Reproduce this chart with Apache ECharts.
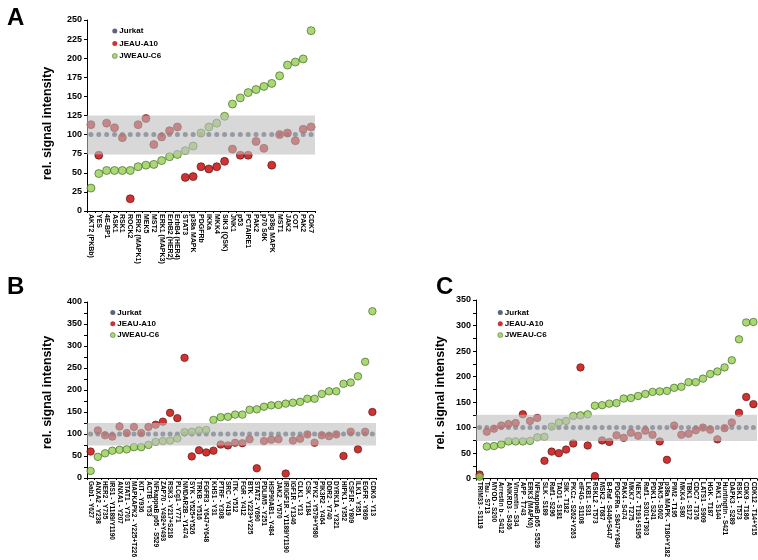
<!DOCTYPE html>
<html><head><meta charset="utf-8">
<script src="https://cdn.jsdelivr.net/npm/echarts@6/dist/echarts.min.js"></script>
<style>html,body{margin:0;padding:0;background:#fff}#c{width:758px;height:560px}</style>
</head><body><div id="c"></div>
<script>
const seriesNames = ['Jurkat', 'JEAU-A10', 'JWEAU-C6'];
const bandRange = [74, 125];

const catsA = ['AKT2 (PKBb)','YES','4E-BP1','ASK1','RSK1','ROCK2','ERK2 (MAPK1)','MEK5','MST2','ERK1 (MAPK3)','ErbB2 (HER2)','ErbB4 (HER4)','STAT3','p38a MAPK','PDGFRb','IKKa','MKK4','SIK3 (QSK)','JNK1','p53','PCTAIRE1','PAK2','p70 S6K','p38g MAPK','MST1','JAK2','COT','PAK2','CDK7'];
const jurkatA = [100,100,100,100,100,100,100,100,100,100,100,100,100,100,100,100,100,100,100,100,100,100,100,100,100,100,100,100,100];
const redA = [113,73,115,109,96,16,113,121,87,97,105,110,44,45,58,55,58,65,81,73,73,91,82,60,100,102,92,107,110];
const greenA = [30,49,53,53,53,53,58,60,61,66,71,74,79,85,102,110,115,124,140,148,155,159,163,167,177,191,195,199,236];
const ticksA = {min: 0, max: 250, interval: 25};

const catsB = ['Gab1 - Y627','ANXA2 - Y238','HER2 - Y735','IRS1 - Y1189/Y1190','ANXA1 - Y207','STAT1 - Y701','MAPKAPK2 - Y225+T226','KIT - Y936','ACTB - Y53','NFkappaB p65 - S529','ZAP70 - Y492+Y493','RSK3 - Y217+S218','PLCg1 - Y771','NMDAR2B - Y1474','SYK - Y525+Y526','TRKB - Y516','FGFR3 - Y647+Y648','KHS1 - Y31','PTRF - Y308','SRC - Y419','ITK - Y512','FGR - Y412','BTK - Y223+Y225','STAT2 - Y690','PDLIM5 - Y251','HSP90AB1 - Y484','JAK2 - Y570','IR/IGF1R - Y1189/Y1190','IGF1R - Y1346','CLK1 - Y13','CSK - Y184','PYK2 - Y579+Y580','PIK3R2 - Y464','DDR2 - Y740','DYRK1A - Y321','HIPK1 - Y352','CSF1R - Y809','ILK1 - Y351','EGFR - Y869','CDK6 - Y13'];
const jurkatB = [100,100,100,100,100,100,100,100,100,100,100,100,100,100,100,100,100,100,100,100,100,100,100,100,100,100,100,100,100,100,100,100,100,100,100,100,100,100,100,100];
const redB = [60,108,97,94,117,102,116,102,116,121,128,148,136,273,49,63,58,62,76,74,80,79,88,22,84,87,88,10,85,89,99,80,97,95,99,50,105,65,105,150];
const greenB = [16,48,56,62,64,65,70,70,75,82,84,85,90,104,105,108,109,132,138,139,144,144,155,156,162,165,166,169,171,173,180,180,191,197,197,214,217,231,264,379];
const ticksB = {min: 0, max: 400, interval: 50};

const catsC = ['TRIM33 - S1119','Tau - S713','MYOD - S200','Arrestin b - S412','ANKRD3 - S436','Vimentin - S34','APP - T743','ERK3 (MAPK6)','NFkappaB p65 - S529','SLK - S189','Raf1 - S296','TAO1 - S181','SIK - T182','PKCz - S262+Y263','eIF4G - S1108','LKB1 - S31','RSKL2 - T573','MSK2 - T687','B-Raf - S446+S447','PDGFRa - S847+Y849','PAK4 - S474','MKK7 - T275','NEK7 - T191+S195','Raf1 - S301+T303','PDK1 - S241','PAK5 - S602','p38a MAPK - T180+Y182','PIM2 - T195','MKK4 - S80','TBK1 - S172','CDC7 - T376','LATS1 - S909','HGK - T187','PAK1 - S144','Huntingtin - S421','DAPK3 - S289','RSK1 - T573','CDK9 - T186','CDK12 - T14+Y15'];
const jurkatC = [100,100,100,100,100,100,100,100,100,100,100,100,100,100,100,100,100,100,100,100,100,100,100,100,100,100,100,100,100,100,100,100,100,100,100,100,100,100,100];
const redC = [8,92,98,104,107,109,126,113,119,35,53,50,57,69,218,65,5,75,72,85,80,90,84,94,86,73,37,104,86,88,95,100,96,77,99,110,129,160,146];
const greenC = [4,63,64,67,73,73,73,74,81,82,102,110,113,123,124,126,143,144,147,148,157,158,162,166,170,171,172,178,180,189,189,196,205,210,218,232,273,306,307];
const ticksC = {min: 0, max: 350, interval: 50};

const FONT = 'Liberation Sans, Arial, sans-serif';
const colors = {jurkat: '#313d5c', red: '#c00000', green: '#92d050'};

const panels = [
  {cats: catsA, j: jurkatA, r: redA, g: greenA, ticks: ticksA, grid: {left: 87, top: 20, width: 228, height: 191}, minor: false, labelSize: 7, nameGap: 33, namePad: 16, size: 8, legend: {left: 112, top: 27, gap: 4.5}},
  {cats: catsB, j: jurkatB, r: redB, g: greenB, ticks: ticksB, grid: {left: 87, top: 302, width: 289, height: 179}, minor: true, labelSize: 6.5, nameGap: 33, namePad: 5, size: 7.5, legend: {left: 110, top: 308.5, gap: 3.3}},
  {cats: catsC, j: jurkatC, r: redC, g: greenC, ticks: ticksC, grid: {left: 476, top: 300, width: 281, height: 181}, minor: true, labelSize: 6.5, nameGap: 29, namePad: 7, size: 7.5, legend: {left: 497.5, top: 308.5, gap: 3.3}}
];

const option = {
  animation: false,
  backgroundColor: '#fff',
  title: [
    {text: 'A', left: 2, top: 1},
    {text: 'B', left: 2, top: 270},
    {text: 'C', left: 431, top: 270}
  ].map(t => Object.assign(t, {textStyle: {fontFamily: FONT, fontSize: 24, fontWeight: 'bold', color: '#000'}})),
  grid: [], xAxis: [], yAxis: [], series: [], legend: []
};

panels.forEach((p, i) => {
  option.grid.push(Object.assign({containLabel: false}, p.grid));
  option.xAxis.push({
    type: 'category', gridIndex: i, data: p.cats, boundaryGap: true,
    axisLine: {lineStyle: {color: '#000', width: 1}},
    axisTick: {show: true, length: 2, lineStyle: {color: '#000'}},
    axisLabel: {interval: 0, rotate: -90, margin: 3, fontFamily: FONT, fontSize: p.labelSize, fontWeight: 'bold', color: '#000'},
    splitLine: {show: false}
  });
  option.yAxis.push({
    type: 'value', gridIndex: i, min: p.ticks.min, max: p.ticks.max, interval: p.ticks.interval,
    name: 'rel. signal intensity', nameLocation: 'middle', nameGap: p.nameGap, nameRotate: 90,
    nameTextStyle: {fontFamily: FONT, fontSize: 12.5, fontWeight: 'bold', color: '#000', padding: [0, p.namePad, 0, 0]},
    axisLine: {show: true, lineStyle: {color: '#000', width: 1}},
    axisTick: {show: true, length: 3, lineStyle: {color: '#000'}},
    minorTick: {show: p.minor, splitNumber: 2, length: 3, lineStyle: {color: '#000'}},
    axisLabel: {margin: 5, fontFamily: FONT, fontSize: 9, fontWeight: 'bold', color: '#000'},
    splitLine: {show: false}
  });
  const common = {type: 'scatter', xAxisIndex: i, yAxisIndex: i, symbol: 'circle'};
  option.series.push(Object.assign({}, common, {name: seriesNames[0], data: p.j, symbolSize: 5, z: 2,
    itemStyle: {color: colors.jurkat}}));
  option.series.push(Object.assign({}, common, {name: seriesNames[1], data: p.r, symbolSize: p.size, z: 3,
    itemStyle: {color: colors.red, borderColor: '#5a1010', borderWidth: 0.8}}));
  option.series.push(Object.assign({}, common, {name: seriesNames[2], data: p.g, symbolSize: p.size, z: 4,
    itemStyle: {color: colors.green, borderColor: '#3d5a22', borderWidth: 0.8}}));
  option.series.push(Object.assign({}, common, {name: 'band', data: [], z: 10, silent: true,
    markArea: {silent: true, z: 10, itemStyle: {color: 'rgba(190,190,190,0.6)'},
      data: [[{yAxis: bandRange[0]}, {yAxis: bandRange[1]}]]}}));
  option.legend.push({
    orient: 'vertical', left: p.legend.left, top: p.legend.top, padding: 0,
    itemGap: p.legend.gap, itemWidth: 5, itemHeight: 5, icon: 'circle',
    data: [
      {name: seriesNames[0], itemStyle: {color: colors.jurkat, borderWidth: 0}},
      {name: seriesNames[1], itemStyle: {color: colors.red, borderWidth: 0}},
      {name: seriesNames[2], itemStyle: {color: colors.green, borderColor: '#3d5a22', borderWidth: 0.6}}
    ],
    textStyle: {fontFamily: FONT, fontSize: 8, fontWeight: 'bold', color: '#000', padding: [0, 0, 0, -3]}
  });
});

const chart = echarts.init(document.getElementById('c'), null, {renderer: 'canvas'});
chart.setOption(option);
</script>
</body></html>
